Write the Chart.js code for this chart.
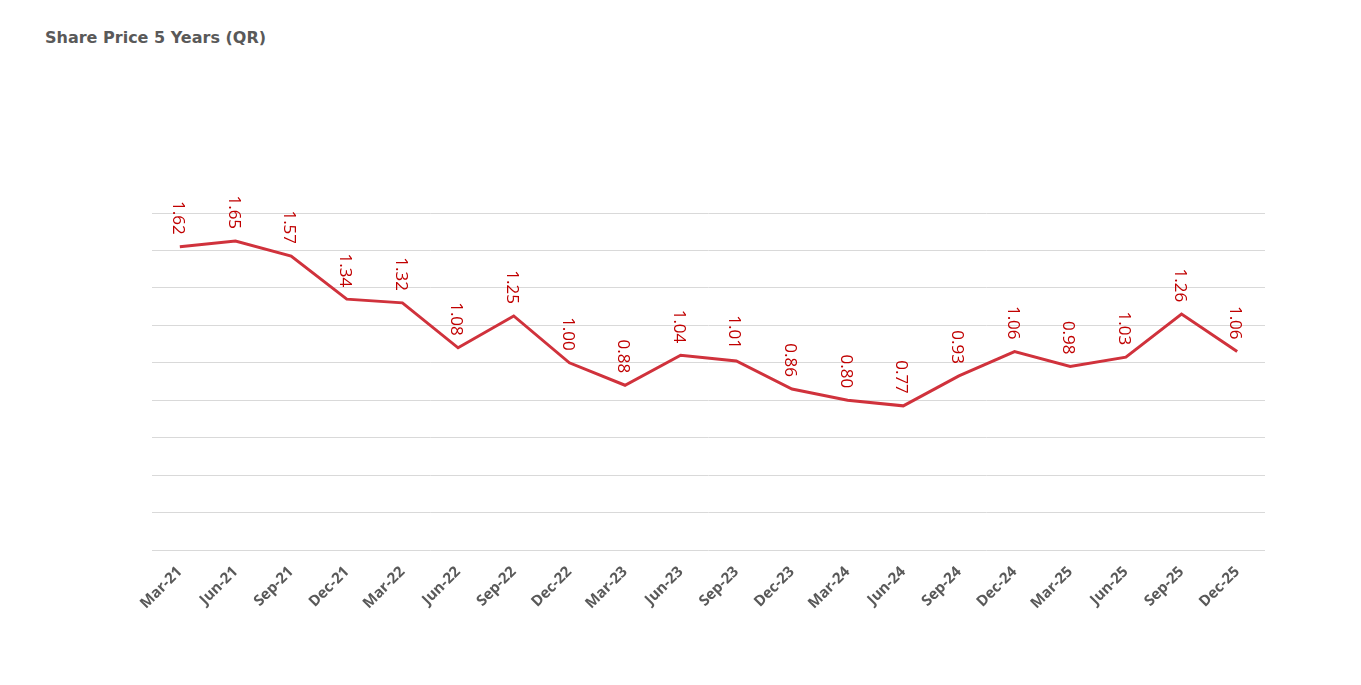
<!DOCTYPE html>
<html>
<head>
<meta charset="utf-8">
<script src="https://cdn.jsdelivr.net/npm/chart.js@4/dist/chart.umd.min.js"></script>
<style>
html,body{margin:0;padding:0;background:#fff;}
#wrap{position:relative;width:1361px;height:685px;}
#title{position:absolute;left:45px;top:28px;font:bold 16px "DejaVu Sans",Verdana,sans-serif;color:#595959;line-height:20px;white-space:nowrap;}
canvas{position:absolute;left:0;top:0;}
</style>
</head>
<body>
<div id="wrap">
<div id="title">Share Price 5 Years (QR)</div>
<canvas id="c" width="1361" height="685"></canvas>
</div>
<script>
const categories = ["Mar-21","Jun-21","Sep-21","Dec-21","Mar-22","Jun-22","Sep-22","Dec-22","Mar-23","Jun-23","Sep-23","Dec-23","Mar-24","Jun-24","Sep-24","Dec-24","Mar-25","Jun-25","Sep-25","Dec-25"];
const prices = [1.62,1.65,1.57,1.34,1.32,1.08,1.25,1.00,0.88,1.04,1.01,0.86,0.80,0.77,0.93,1.06,0.98,1.03,1.26,1.06];
const yMin = 0, yMax = 1.8, yStep = 0.2;

const labelPlugin = {
  id: 'vlabels',
  afterDatasetsDraw(chart) {
    const ctx = chart.ctx;
    const meta = chart.getDatasetMeta(0);
    ctx.save();
    ctx.font = '17px "Open Sans", sans-serif';
    ctx.fillStyle = '#c00000';
    ctx.textAlign = 'right';
    ctx.textBaseline = 'middle';
    meta.data.forEach((pt, i) => {
      ctx.save();
      ctx.translate(pt.x - 2, pt.y - 12);
      ctx.rotate(Math.PI / 2);
      ctx.fillText(prices[i].toFixed(2), 0, 0);
      ctx.restore();
    });
    ctx.restore();
  }
};

new Chart(document.getElementById('c'), {
  type: 'line',
  data: {
    labels: categories,
    datasets: [{
      data: prices,
      borderColor: '#d0323c',
      borderWidth: 3,
      pointRadius: 0,
      tension: 0,
      fill: false
    }]
  },
  options: {
    responsive: false,
    animation: false,
    layout: { padding: { left: 152, right: 96, top: 213, bottom: 0 } },
    plugins: { legend: { display: false }, tooltip: { enabled: false }, title: { display: false } },
    scales: {
      x: {
        offset: true,
        grid: { display: false },
        border: { display: false },
        ticks: {
          autoSkip: false,
          maxRotation: 45,
          minRotation: 45,
          padding: 5,
          color: '#595959',
          font: { family: '"Open Sans", sans-serif', size: 15, weight: 'bold' }
        },
        afterFit(scale) { scale.height = 135; }
      },
      y: {
        min: yMin,
        max: yMax,
        ticks: { display: false, stepSize: yStep },
        grid: { color: '#d9d9d9', lineWidth: 1, drawTicks: false },
        border: { display: false },
        afterFit(scale) { scale.width = 0; }
      }
    }
  },
  plugins: [labelPlugin]
});
</script>
</body>
</html>
